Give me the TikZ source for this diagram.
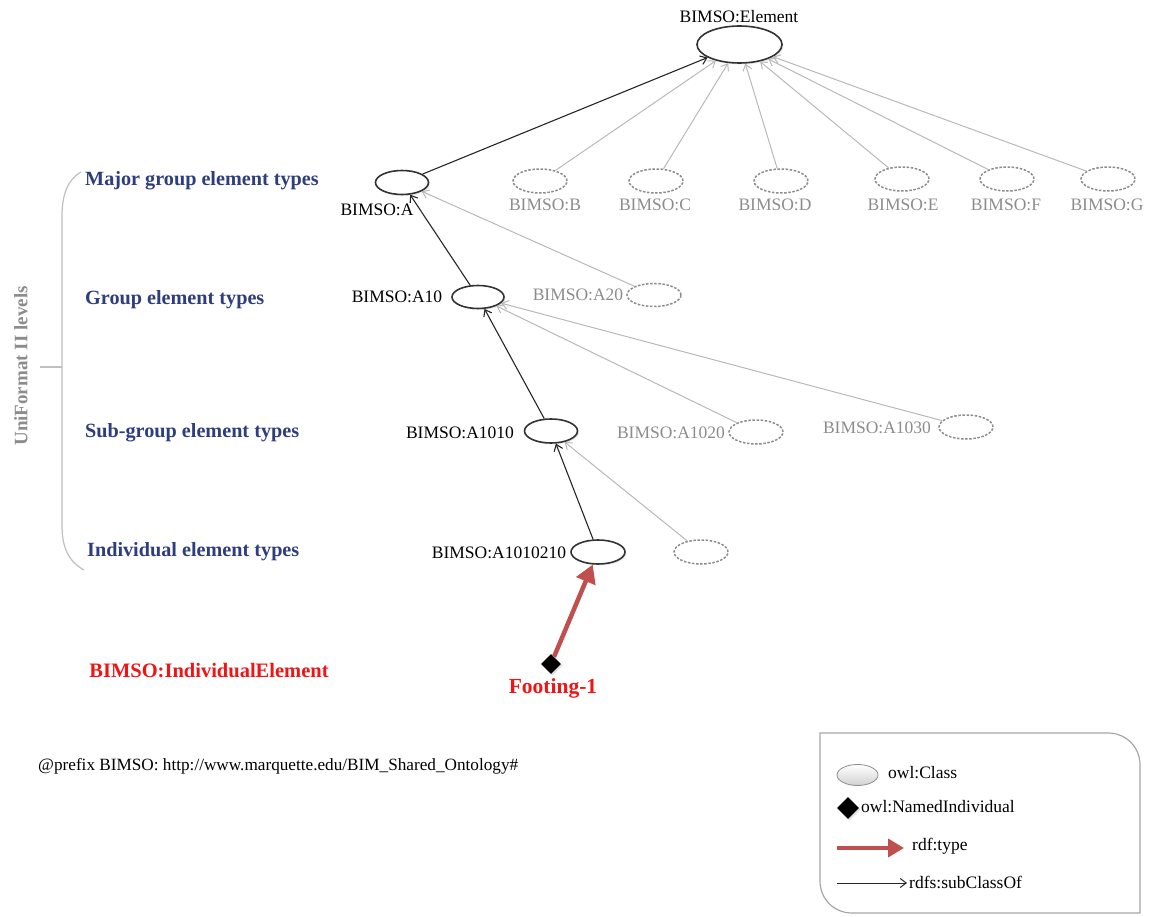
\documentclass[tikz,border=0pt]{standalone}
\usepackage{fontspec}
\setmainfont{Liberation Serif}
\usetikzlibrary{arrows.meta,shapes.geometric,shadows}

\definecolor{levelblue}{RGB}{46,62,124}
\definecolor{typered}{RGB}{192,80,77}
\definecolor{indred}{RGB}{240,20,20}
\definecolor{ghost}{RGB}{140,140,140}

\tikzset{
  lbl/.style={font=\fontsize{17.5}{20}\selectfont, inner sep=0pt, text=black},
  ghostlbl/.style={lbl, text=ghost},
  levellbl/.style={font=\fontsize{20.2}{24}\selectfont\bfseries, text=levelblue, inner sep=0pt, anchor=west},
  cls/.style={ellipse, draw=black!80, line width=1.6pt, fill=white,
    minimum width=53pt, minimum height=24pt, inner sep=0pt,
    drop shadow={opacity=0.18, shadow xshift=1.5pt, shadow yshift=-1.5pt}},
  ghostcls/.style={ellipse, draw=black!45, line width=1.5pt,
    dash pattern=on 2.5pt off 1.6pt,
    minimum width=54pt, minimum height=24pt, inner sep=0pt},
  sub/.style={draw=black!85, line width=1.1pt, -{Straight Barb[length=6pt,width=9pt]}},
  ghostsub/.style={draw=black!28, line width=1pt, -{Straight Barb[length=6pt,width=9pt]}},
  rdftype/.style={draw=typered, line width=4.5pt, -{Triangle[length=18pt,width=20pt]}},
  indiv/.style={diamond, fill=black, minimum size=20pt, inner sep=0pt,
    drop shadow={opacity=0.25, shadow xshift=1.5pt, shadow yshift=-1.5pt}},
}

\begin{document}
\begin{tikzpicture}[x=1pt,y=-1pt]
\useasboundingbox (0,0) rectangle (1152,917);

% ---- class hierarchy ----
\node[cls, minimum width=85pt, minimum height=37pt] (elem) at (739.5,44.5) {};
\node[lbl] (elemL) at (739,17) {BIMSO:Element};

\node[cls] (a) at (402,182.5) {};
\node[lbl] (aL) at (377,210) {BIMSO:A};

\node[ghostcls] (b) at (540,181) {};
\node[ghostcls] (c) at (656,181) {};
\node[ghostcls] (d) at (781,181) {};
\node[ghostcls] (e) at (902,179) {};
\node[ghostcls] (f) at (1007,179) {};
\node[ghostcls] (g) at (1108,179) {};
\node[ghostlbl] (bL) at (545,205) {BIMSO:B};
\node[ghostlbl] (cL) at (655,205) {BIMSO:C};
\node[ghostlbl] (dL) at (775,205) {BIMSO:D};
\node[ghostlbl] (eL) at (903,205) {BIMSO:E};
\node[ghostlbl] (fL) at (1006,205) {BIMSO:F};
\node[ghostlbl] (gL) at (1107,205) {BIMSO:G};

\node[cls, minimum width=52pt, minimum height=23pt] (a10) at (478,297) {};
\node[lbl] (a10L) at (397,297) {BIMSO:A10};
\node[ghostcls, minimum height=23pt] (a20) at (654,295) {};
\node[ghostlbl] (a20L) at (578,295) {BIMSO:A20};

\node[cls] (a1010) at (551,431) {};
\node[lbl] (a1010L) at (460,433) {BIMSO:A1010};
\node[ghostcls] (a1020) at (756,432) {};
\node[ghostlbl] (a1020L) at (671,433) {BIMSO:A1020};
\node[ghostcls] (a1030) at (966,427) {};
\node[ghostlbl] (a1030L) at (877,428) {BIMSO:A1030};

\node[cls, minimum width=54pt] (a1010210) at (598,552) {};
\node[lbl] (a1010210L) at (499,553) {BIMSO:A1010210};
\node[ghostcls] (ax) at (701,552) {};

\node[indiv] (foot) at (551,664) {};
\node[font=\fontsize{21.5}{24}\selectfont\bfseries, text=indred, inner sep=0pt] (footL) at (553,688) {Footing-1};

% ---- subclass links ----
\draw[sub] (a) -- (elem);
\foreach \n in {b,c,d,e,f,g} \draw[ghostsub] (\n) -- (elem);
\draw[sub] (a10) -- (a);
\draw[ghostsub] (a20) -- (a);
\draw[sub] (a1010) -- (a10);
\draw[ghostsub] (a1020) -- (a10);
\draw[ghostsub] (a1030) -- (a10);
\draw[sub] (a1010210) -- (a1010);
\draw[ghostsub] (ax) -- (a1010);
\draw[rdftype] (foot) -- (a1010210);

% ---- UniFormat II level brace ----
\draw[black!25, line width=1.2pt] (81,172) .. controls (67,180) and (62,196) .. (62,216)
  -- (62,525) .. controls (62,547) and (68,561) .. (84,570);
\draw[black!25, line width=1.2pt] (62,367) -- (40,367);
\node[font=\fontsize{19}{22}\selectfont\bfseries, text=ghost, rotate=90, inner sep=0pt] (levels) at (21,366) {UniFormat II levels};

\node[levellbl] (lv1) at (85,181) {Major group element types};
\node[levellbl] (lv2) at (85,300) {Group element types};
\node[levellbl] (lv3) at (85,433) {Sub-group element types};
\node[levellbl] (lv4) at (87,552) {Individual element types};

\node[font=\fontsize{20.5}{24}\selectfont\bfseries, text=indred, inner sep=0pt] (indL) at (209,671) {BIMSO:IndividualElement};

% ---- namespace prefix ----
\node[font=\fontsize{17.2}{20}\selectfont, inner sep=0pt, anchor=west] (prefix) at (38,766) {@prefix BIMSO: http://www.marquette.edu/BIM\_Shared\_Ontology\#};

% ---- legend ----
\draw[black!35, line width=1.2pt] (820,733) -- (1108,733) .. controls (1126,733) and (1140,747) .. (1140,765)
  -- (1140,913) -- (852,913) .. controls (834,913) and (820,899) .. (820,881) -- cycle;
\node[ellipse, draw=black!45, line width=0.8pt, top color=white, bottom color=black!18,
  minimum width=41pt, minimum height=21pt, inner sep=0pt] (lgEll) at (857.5,775) {};
\node[lbl, anchor=west] (lgEllL) at (888,773) {owl:Class};
\node[indiv, minimum size=22pt] (lgDia) at (848,808) {};
\node[lbl, anchor=west] (lgDiaL) at (861,807) {owl:NamedIndividual};
\coordinate (lgR1) at (837,848);
\coordinate (lgR2) at (904,848);
\draw[draw=typered, line width=4.5pt, -{Triangle[length=16pt,width=18pt]}] (lgR1) -- (lgR2);
\node[lbl, anchor=west] (lgRL) at (912,846) {rdf:type};
\coordinate (lgB1) at (837,883);
\coordinate (lgB2) at (907,883);
\draw[sub, line width=1pt] (lgB1) -- (lgB2);
\node[lbl, anchor=west] (lgBL) at (909,882) {rdfs:subClassOf};
\end{tikzpicture}
\end{document}
